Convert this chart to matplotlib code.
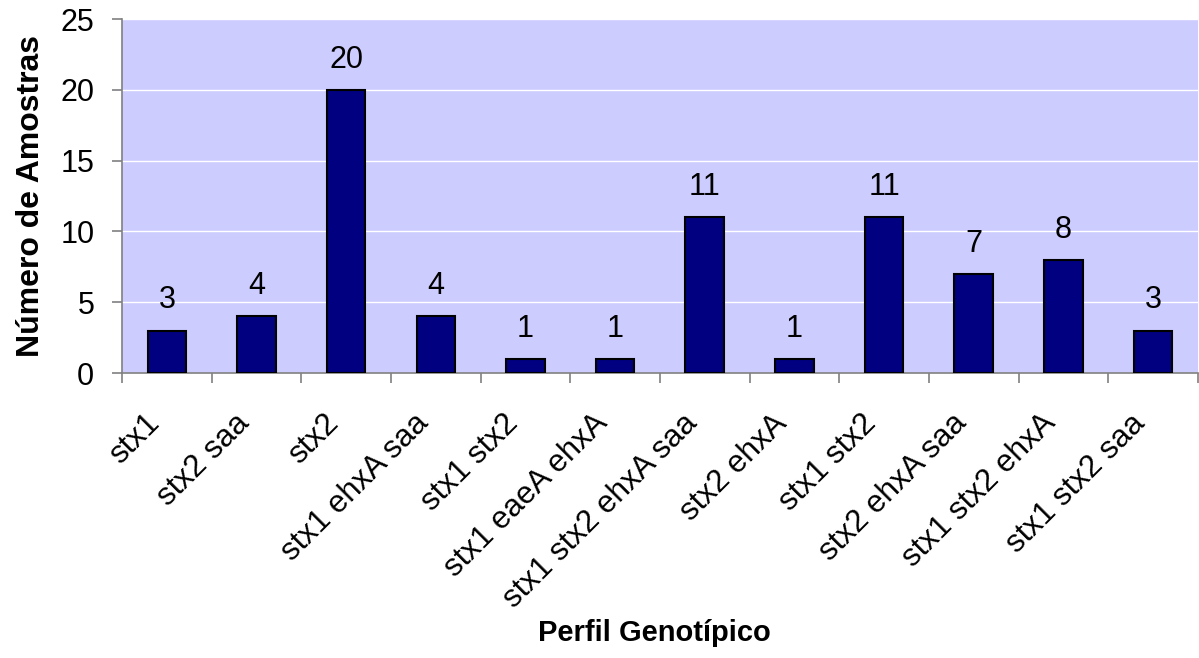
import matplotlib
matplotlib.use('Agg')
import matplotlib.pyplot as plt
import matplotlib.transforms as mtransforms
import numpy as np

plt.rcParams['font.family'] = ['Liberation Sans', 'DejaVu Sans']

perfis = ['stx1', 'stx2 saa', 'stx2', 'stx1 ehxA saa', 'stx1 stx2',
          'stx1 eaeA ehxA', 'stx1 stx2 ehxA saa', 'stx2 ehxA', 'stx1 stx2',
          'stx2 ehxA saa', 'stx1 stx2 ehxA', 'stx1 stx2 saa']
amostras = [3, 4, 20, 4, 1, 1, 11, 1, 11, 7, 8, 3]
yticks = [0, 5, 10, 15, 20, 25]

fig = plt.figure(figsize=(11.99, 6.58), dpi=100)
ax = fig.add_axes([0.1018, 0.433, 0.8972, 0.538])
ax.set_facecolor('#CCCCFF')

x = np.arange(len(perfis))
ax.bar(x, amostras, width=0.43, color='#000080', edgecolor='black', linewidth=1.5, zorder=3)

for xi, v in zip(x, amostras):
    ax.annotate(str(v), (xi, v), xytext=(0, 11), textcoords='offset points',
                ha='center', va='bottom', fontsize=22)

ax.set_xlim(-0.5, len(perfis) - 0.5)
ax.set_ylim(0, 25)
ax.set_yticks(yticks)
ax.yaxis.grid(True, color='white', linewidth=1)
ax.set_axisbelow(True)

# ticks between categories, labels centred on bars
ax.set_xticks(np.arange(len(perfis) + 1) - 0.5)
ax.set_xticklabels([])
ax.set_xticks(x, minor=True)
ax.set_xticklabels(perfis, minor=True, rotation=45, ha='right', va='center',
                   rotation_mode='anchor', fontsize=22.5)
ax.tick_params(axis='x', which='minor', length=0, pad=33)
ax.tick_params(axis='x', which='major', length=7, width=1.2, color='#808080', direction='out')
ax.tick_params(axis='y', length=7, width=1.2, color='#808080', labelsize=22, pad=13)

offset = mtransforms.ScaledTranslation(-12 / 100, 0, fig.dpi_scale_trans)
for lbl in ax.xaxis.get_minorticklabels():
    lbl.set_transform(lbl.get_transform() + offset)

for s in ['top', 'right']:
    ax.spines[s].set_visible(False)
for s in ['left', 'bottom']:
    ax.spines[s].set_color('#808080')
    ax.spines[s].set_linewidth(1.2)

ax.set_ylabel('Número de Amostras', fontsize=23, fontweight='bold', labelpad=10)
fig.text(0.546, 0.038, 'Perfil Genotípico', ha='center', va='center',
         fontsize=21, fontweight='bold')

fig.savefig('out.png', dpi=100)
